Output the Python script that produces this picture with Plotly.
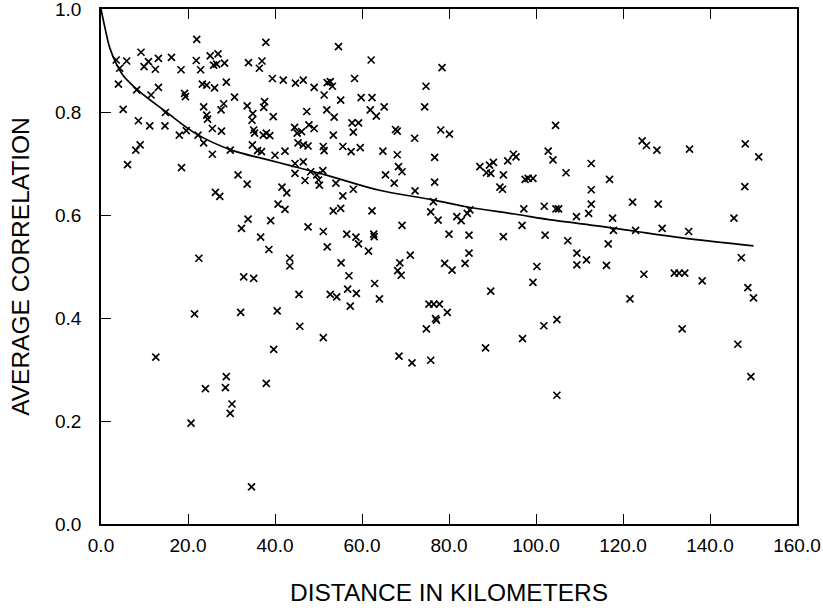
import plotly.graph_objects as go

# station pairs: distance (km) vs average correlation
dist_km = [
    22.0, 37.9, 9.2, 3.5, 5.9, 10.9, 9.9, 13.2, 16.2, 12.5, 4.3, 18.4, 21.9, 22.9, 25.1, 26.9,
    25.9, 26.6, 28.4, 33.9, 37.0, 36.4, 4.0, 8.2, 13.2, 11.5, 19.2, 19.4, 23.3, 24.3, 26.1, 28.8,
    30.7, 39.4, 41.9, 44.7, 46.5, 49.0, 52.0, 51.3, 5.1, 8.6, 11.2, 14.7, 14.8, 18.0, 19.6, 22.3,
    23.6, 23.6, 24.3, 24.5, 25.6, 27.7, 27.6, 28.2, 33.6, 34.9, 34.7, 37.6, 37.4, 39.6, 35.1, 35.3,
    37.3, 38.0, 38.8, 34.8, 36.0, 36.9, 40.0, 42.3, 44.5, 45.1, 46.1, 47.8, 49.0, 47.3, 51.9, 45.3,
    46.5, 47.6, 51.1, 29.7, 25.6, 8.0, 9.0, 6.1, 18.5, 31.5, 33.6, 26.3, 27.3, 41.6, 42.7, 44.6,
    46.5, 44.6, 46.9, 48.2, 49.6, 51.0, 50.0, 50.2,
    54.6, 62.1, 78.4, 52.7, 53.2, 58.3, 55.1, 59.8, 62.3, 74.7, 74.4, 65.1, 61.9, 63.3, 53.6, 57.7,
    59.2, 58.0, 53.4, 67.7, 68.1, 72.1, 78.1, 80.1, 51.3, 55.6, 57.5, 59.6, 64.8, 68.1, 76.7, 68.4,
    69.2, 65.4, 67.4, 76.7, 72.2, 54.0, 55.6, 58.0, 104.5, 102.8, 103.9, 87.1, 88.6, 89.3, 90.2, 89.6,
    92.5, 93.5, 94.8, 95.4, 91.7, 92.3, 97.5, 98.2, 99.3,
    112.7, 106.9, 112.7, 116.9, 124.4, 125.4, 127.8, 135.3, 148.1, 151.2, 148.0,
    40.7, 42.3, 33.8, 32.3, 39.0, 36.7, 38.6, 47.6, 51.1, 52.0, 22.5, 43.4, 43.4, 32.8, 35.1, 45.5,
    52.7, 21.5, 32.1, 40.5, 45.7, 51.1, 39.7, 12.6, 28.8, 24.0, 28.6, 38.0,
    76.4, 53.4, 55.1, 62.3, 75.8, 77.5, 81.8, 82.8, 84.2, 84.8, 69.2, 56.5, 58.6, 62.7, 62.8, 59.2,
    61.5, 80.0, 84.6, 84.6, 92.5, 96.8, 97.2, 101.9, 102.1, 104.6, 105.2, 55.2, 71.1, 68.7, 68.2, 69.0,
    79.0, 80.7, 83.7, 57.0, 56.7, 58.7, 62.9, 64.0, 54.2, 57.3, 75.4, 76.5, 77.8, 79.6, 76.9, 77.1,
    74.8, 89.6, 100.2, 99.3, 101.8, 104.8, 96.9, 88.4, 68.5, 71.5, 75.8,
    112.7, 122.2, 128.1, 109.3, 112.1, 117.6, 117.8, 122.9, 129.0, 135.1, 145.5, 107.3, 116.6, 109.4, 109.4, 111.6,
    116.2, 124.8, 131.8, 132.9, 134.2, 138.2, 147.2, 148.7, 150.0, 121.6, 133.6, 146.4, 149.4,
    30.1, 29.7, 20.7, 34.6, 104.8,
]
avg_corr = [
    0.941, 0.935, 0.916, 0.901, 0.899, 0.898, 0.888, 0.904, 0.906, 0.883, 0.885, 0.882, 0.900, 0.882, 0.909, 0.913,
    0.891, 0.893, 0.895, 0.896, 0.899, 0.885, 0.854, 0.843, 0.848, 0.833, 0.836, 0.830, 0.854, 0.852, 0.847, 0.858,
    0.829, 0.865, 0.862, 0.856, 0.862, 0.848, 0.857, 0.833, 0.805, 0.783, 0.773, 0.773, 0.799, 0.755, 0.764, 0.755,
    0.740, 0.810, 0.794, 0.786, 0.768, 0.763, 0.804, 0.816, 0.812, 0.797, 0.784, 0.820, 0.809, 0.791, 0.765, 0.759,
    0.755, 0.759, 0.754, 0.736, 0.725, 0.723, 0.716, 0.724, 0.770, 0.759, 0.762, 0.775, 0.768, 0.801, 0.804, 0.740,
    0.736, 0.734, 0.733, 0.726, 0.718, 0.726, 0.736, 0.698, 0.692, 0.678, 0.660, 0.644, 0.636, 0.654, 0.643, 0.700,
    0.703, 0.681, 0.667, 0.684, 0.678, 0.686, 0.668, 0.658,
    0.927, 0.901, 0.886, 0.859, 0.850, 0.865, 0.823, 0.828, 0.828, 0.850, 0.810, 0.810, 0.804, 0.792, 0.790, 0.779,
    0.779, 0.761, 0.755, 0.766, 0.763, 0.749, 0.765, 0.757, 0.725, 0.733, 0.723, 0.731, 0.724, 0.717, 0.712, 0.694,
    0.684, 0.678, 0.662, 0.664, 0.647, 0.662, 0.637, 0.650, 0.774, 0.724, 0.707, 0.694, 0.682, 0.697, 0.702, 0.681,
    0.678, 0.705, 0.718, 0.713, 0.654, 0.650, 0.669, 0.671, 0.671,
    0.700, 0.682, 0.649, 0.669, 0.744, 0.735, 0.726, 0.728, 0.738, 0.713, 0.655,
    0.621, 0.611, 0.592, 0.574, 0.589, 0.557, 0.533, 0.577, 0.568, 0.538, 0.516, 0.516, 0.501, 0.480, 0.477, 0.446,
    0.446, 0.408, 0.411, 0.414, 0.384, 0.362, 0.339, 0.324, 0.286, 0.263, 0.265, 0.273,
    0.626, 0.608, 0.613, 0.608, 0.606, 0.590, 0.597, 0.589, 0.603, 0.610, 0.580, 0.563, 0.557, 0.563, 0.558, 0.544,
    0.530, 0.563, 0.561, 0.526, 0.558, 0.580, 0.612, 0.617, 0.561, 0.612, 0.612, 0.507, 0.522, 0.507, 0.492, 0.483,
    0.506, 0.493, 0.506, 0.482, 0.456, 0.448, 0.467, 0.437, 0.441, 0.423, 0.427, 0.427, 0.427, 0.411, 0.399, 0.396,
    0.379, 0.452, 0.500, 0.469, 0.385, 0.397, 0.360, 0.342, 0.326, 0.313, 0.318,
    0.621, 0.625, 0.621, 0.597, 0.603, 0.594, 0.570, 0.570, 0.574, 0.568, 0.594, 0.550, 0.544, 0.526, 0.503, 0.513,
    0.502, 0.485, 0.487, 0.487, 0.487, 0.472, 0.517, 0.459, 0.439, 0.437, 0.379, 0.349, 0.286,
    0.233, 0.215, 0.196, 0.072, 0.250,
]

# fitted decay curve, sampled from the drawn line
curve_km = [0, 1, 2, 3.5, 5, 8.4, 15, 22, 30, 38, 44, 52, 64, 76, 84, 95, 104, 115, 123, 134, 150]
curve_corr = [1.0, 0.96, 0.925, 0.894, 0.872, 0.843, 0.80, 0.757, 0.726, 0.708, 0.695, 0.677,
              0.648, 0.63, 0.616, 0.602, 0.59, 0.578, 0.568, 0.555, 0.54]

x_ticks = [0, 20, 40, 60, 80, 100, 120, 140, 160]
y_ticks = [0, 0.2, 0.4, 0.6, 0.8, 1.0]

fnt = "Liberation Sans, Arial, Helvetica, sans-serif"

fig = go.Figure()
fig.add_trace(go.Scatter(x=dist_km, y=avg_corr, mode="markers",
                         marker=dict(symbol="x-thin", size=7, color="black",
                                     line=dict(color="black", width=1.7))))
fig.add_trace(go.Scatter(x=curve_km, y=curve_corr, mode="lines", line_shape="spline",
                         line=dict(color="black", width=1.7)))

fig.update_xaxes(range=[0, 160], tickvals=x_ticks, tickformat=".1f",
                 ticks="inside", ticklen=10, tickwidth=1.2, tickcolor="black",
                 showline=True, linecolor="black", linewidth=1.5, mirror="ticks",
                 showgrid=False, zeroline=False, ticklabelstandoff=3, automargin=False,
                 ticklabeloverflow="allow",
                 title=dict(text="DISTANCE IN KILOMETERS", standoff=29,
                            font=dict(size=24.5, color="black")))
fig.update_yaxes(range=[0, 1], tickvals=y_ticks, tickformat=".1f",
                 ticks="inside", ticklen=10, tickwidth=1.2, tickcolor="black",
                 showline=True, linecolor="black", linewidth=1.5, mirror=True,
                 showgrid=False, zeroline=False, ticklabelstandoff=14, automargin=False,
                 ticklabeloverflow="allow",
                 title=dict(text="AVERAGE CORRELATION", standoff=18,
                            font=dict(size=24.5, color="black")))

fig.update_layout(width=823, height=611, showlegend=False,
                  plot_bgcolor="white", paper_bgcolor="white",
                  font=dict(family=fnt, size=19, color="black"),
                  margin=dict(l=101, r=26, t=9, b=87))

# page body has a default 8px margin; drop it so the figure sits at 0,0
fig.write_html("out.html", config={"displayModeBar": False},
               post_script="document.body.style.margin='0px';")
